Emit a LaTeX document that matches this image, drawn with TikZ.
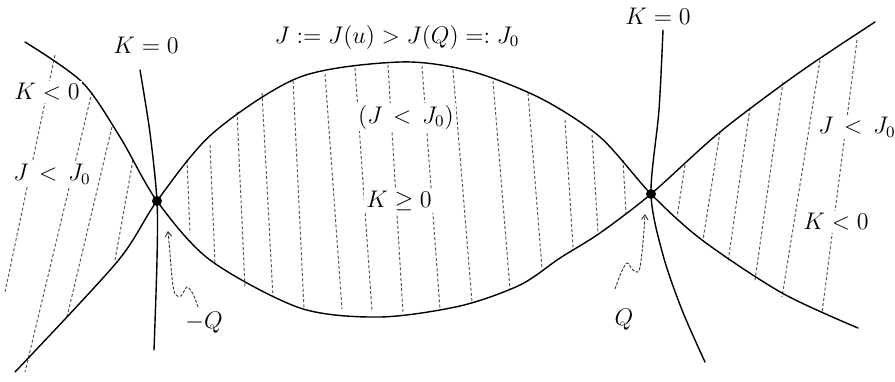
\documentclass[tikz,border=0pt]{standalone}
\usetikzlibrary{arrows.meta}
\begin{document}
\begin{tikzpicture}[x=0.5pt,y=-0.5pt,
  curve/.style={line width=0.7pt, line join=round, line cap=round},
  hatch/.style={line width=0.5pt, black!65, dash pattern=on 1.5pt off 1.1pt},
  lab/.style={font=\fontsize{11.7}{14}\selectfont, inner sep=1pt},
  lbl/.style={lab, fill=white},
  dot/.style={circle, fill=black, inner sep=0pt, minimum size=5pt},
  squig/.style={line width=0.45pt, black!80, dash pattern=on 1.5pt off 0.8pt,
                -{Straight Barb[length=2.4pt,width=3.2pt]}}]
\useasboundingbox (0,0) rectangle (895,381);

% key points
\coordinate (mQc) at (157,201);
\coordinate (pQc) at (651,194);

% hatching: left outer region
\draw[hatch] (55,55) -- (5,292);
\draw[hatch] (92,92) -- (25,372);
\draw[hatch] (112,127) -- (67,317);
\draw[hatch] (133,160) -- (115,260);
% hatching: middle lens
\draw[hatch] (187,160) -- (190,233);
\draw[hatch] (210,145) -- (215,263);
\draw[hatch] (237,112) -- (245,287);
\draw[hatch] (262,93) -- (273,297);
\draw[hatch] (293,81) -- (304,308);
\draw[hatch] (325,74) -- (342,309);
\draw[hatch] (355,68) -- (372,311);
\draw[hatch] (388,65) -- (403,313);
\draw[hatch] (422,66) -- (440,309);
\draw[hatch] (453,70) -- (472,302);
\draw[hatch] (493,81) -- (510,289);
\draw[hatch] (528,93) -- (542,268);
\draw[hatch] (565,120) -- (573,247);
\draw[hatch] (592,135) -- (598,233);
\draw[hatch] (623,160) -- (626,213);
% hatching: right region
\draw[hatch] (685,165) -- (677,217);
\draw[hatch] (720,132) -- (703,240);
\draw[hatch] (750,108) -- (728,262);
\draw[hatch] (783,82) -- (755,280);
\draw[hatch] (820,60) -- (782,297);
\draw[hatch] (857,40) -- (822,313);

% curve through bottom of the lens
\draw[curve] plot[smooth] coordinates {(25,42) (82,82) (120,137) (mQc)
  (210,260) (300,308) (380,317) (460,306) (520,285) (560,258) (600,233)
  (pQc) (720,132) (800,72) (875,22)};
% curve through top of the lens
\draw[curve] plot[smooth] coordinates {(15,372) (117,262) (mQc)
  (213,133) (300,77) (400,62) (470,71) (540,98) (600,137) (pQc)
  (702,240) (782,293) (858,328)};
% K = 0 curves
\draw[curve] plot[smooth] coordinates {(140,70) (150,133) (mQc)
  (157,260) (154,350)};
\draw[curve] plot[smooth] coordinates {(663,30) (659,110) (pQc)
  (663,255) (682,310) (705,362)};

% points
\node[dot] (mQ) at (mQc) {};
\node[dot] (pQ) at (pQc) {};

% labels
\node[lab] (k0l) at (146,45) {$K=0$};
\node[lab] (title) at (397,37) {$J:=J(u)>J(Q)=:J_0$};
\node[lab] (k0r) at (658,16) {$K=0$};
\node[lbl] (kneg1) at (47,92) {$K<0$};
\node[lbl] (jl1) at (52,174) {$J\,<\,J_0$};
\node[lbl] (jmid) at (406,117) {$(J\,<\,J_0)$};
\node[lbl] (kpos) at (399,201) {$K\geq 0$};
\node[lbl] (jr) at (857,127) {$J\,<\,J_0$};
\node[lbl] (kneg2) at (836,222) {$K<0$};
\node[lab] (mQl) at (204,323) {$-Q$};
\node[lab] (pQl) at (624,320) {$Q$};

% squiggly pointers
\coordinate (mQs) at (198,307);
\coordinate (mQt) at (168,231);
\coordinate (pQs) at (615,289);
\coordinate (pQt) at (645,214);
\draw[squig] plot[smooth] coordinates {(mQs) (193,294) (187,287) (181,296)
  (175,294) (172,278) (170,253) (mQt)};
\draw[squig] plot[smooth] coordinates {(pQs) (621,273) (627,263) (633,270)
  (639,271) (642,252) (644,230) (pQt)};
\end{tikzpicture}
\end{document}
